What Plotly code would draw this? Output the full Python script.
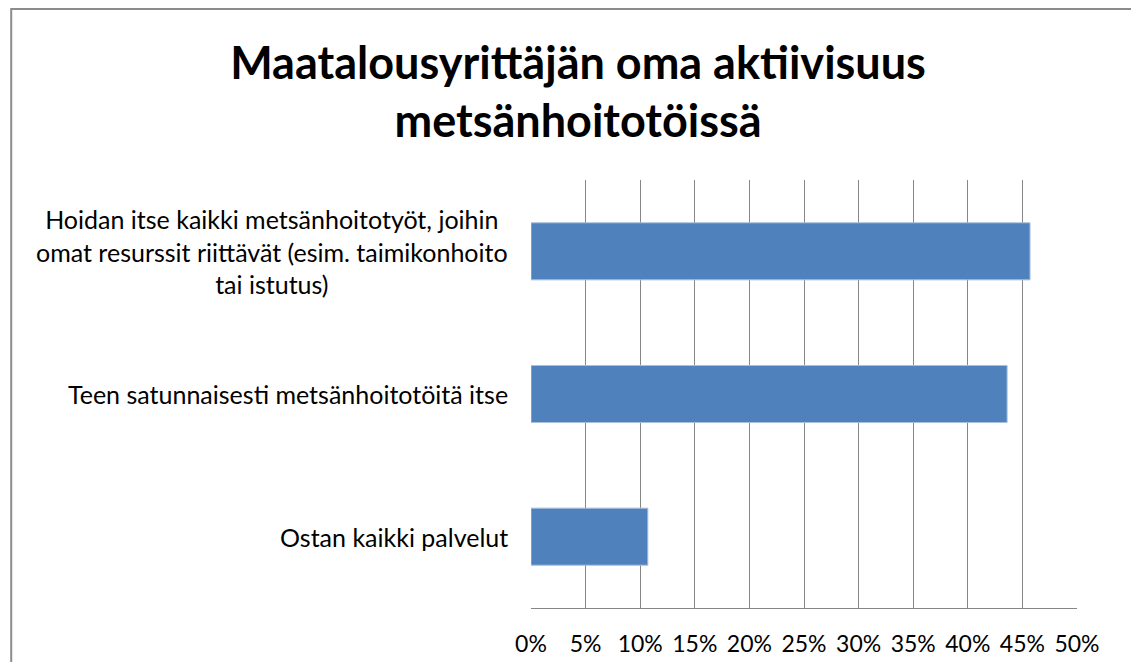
import plotly.graph_objects as go

# Data
categories = [
    "Hoidan itse kaikki metsänhoitotyöt, joihin<br>omat resurssit riittävät (esim. taimikonhoito<br>tai istutus)",
    "Teen satunnaisesti metsänhoitotöitä itse",
    "Ostan kaikki palvelut",
]
shares = [0.457, 0.436, 0.107]
x_ticks = [0, 0.05, 0.10, 0.15, 0.20, 0.25, 0.30, 0.35, 0.40, 0.45, 0.50]

FONT = "Lato, Carlito, Calibri, sans-serif"
GRID = "#868686"

fig = go.Figure(go.Bar(
    x=shares,
    y=categories,
    orientation="h",
    marker=dict(color="#4f81bd", line=dict(color="#a9c0dd", width=1)),
    width=0.4,
))

# category labels as centred multi-line text next to the axis
for cat in categories:
    fig.add_annotation(
        x=0, y=cat, xref="x", yref="y",
        text=cat, showarrow=False,
        xanchor="right", xshift=-21, align="center",
        font=dict(family=FONT, size=25, color="#000000"),
    )

# page has an 8px body margin, so the figure is a bit smaller than the window
fig.update_layout(
    width=1123, height=654,
    margin=dict(l=523, r=54, t=172, b=54),
    paper_bgcolor="white", plot_bgcolor="white",
    showlegend=False,
    title=dict(
        text="Maatalousyrittäjän oma aktiivisuus<br>metsänhoitotöissä",
        x=0.5076, xanchor="center", y=0.8915, yanchor="middle",
        font=dict(family=FONT, size=45, color="#000000", weight="bold"),
    ),
    font=dict(family=FONT, size=23, color="#000000"),
)

fig.update_xaxes(
    range=[0, 0.5], tickvals=x_ticks, tickformat=".0%",
    showgrid=True, gridcolor=GRID, gridwidth=1,
    zeroline=False, showline=True, linecolor=GRID, linewidth=1,
    ticks="", ticklabelstandoff=15, automargin=False,
    tickfont=dict(family=FONT, size=23),
)
fig.update_yaxes(
    autorange="reversed", showticklabels=False, automargin=False,
    showgrid=False, zeroline=False, showline=False, ticks="",
)

# outer chart frame
fig.add_shape(
    type="rect", xref="paper", yref="paper",
    x0=-0.952, x1=1.3, y0=-0.5, y1=(608 - 9) / 428,
    line=dict(color="#8c8c8c", width=2), layer="below",
)

fig.write_html("out.html")
